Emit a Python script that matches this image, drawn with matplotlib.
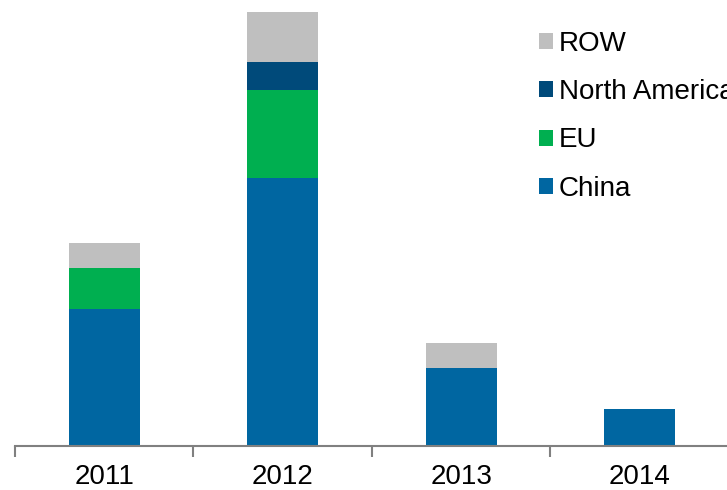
import numpy as np
import matplotlib
matplotlib.use("Agg")
import matplotlib.pyplot as plt

plt.rcParams["font.family"] = ["Liberation Sans", "DejaVu Sans"]

# data (arbitrary units)
years = ["2011", "2012", "2013", "2014"]
china = [13.7, 26.8, 7.8, 3.7]
eu = [4.1, 8.8, 0.0, 0.0]
north_america = [0.0, 2.8, 0.0, 0.0]
row = [2.5, 5.0, 2.5, 0.0]

series = [("China", china, "#0066A1"),
          ("EU", eu, "#00AF50"),
          ("North America", north_america, "#004A7A"),
          ("ROW", row, "#BFBFBF")]

fig = plt.figure(figsize=(7.27, 4.90), dpi=100)
ax = fig.add_axes([15 / 727, 44 / 490, 714 / 727, 446 / 490])

x = np.arange(len(years))
bottom = np.zeros(len(years))
handles = []
for name, vals, color in series:
    vals = np.array(vals)
    h = ax.bar(x, vals, width=0.4, bottom=bottom, color=color, label=name,
               edgecolor="none")
    handles.append(h)
    bottom += vals

ax.set_xlim(-0.5, 3.5)
ax.set_ylim(0, 44.6)

for s in ["left", "top", "right"]:
    ax.spines[s].set_visible(False)
ax.spines["bottom"].set_color("#808080")
ax.spines["bottom"].set_linewidth(1.5)
ax.set_yticks([])

# boundary ticks as major, labels on minor ticks at the centres
ax.set_xticks(np.arange(-0.5, 4.0, 1.0))
ax.set_xticklabels([])
ax.tick_params(axis="x", which="major", direction="out", length=8,
               width=1.5, color="#808080")
ax.set_xticks(x, minor=True)
ax.set_xticklabels(years, minor=True, fontsize=20)
ax.tick_params(axis="x", which="minor", length=0, pad=13)

# legend reads top-down ROW ... China; long label runs off the right edge as in the source
leg = ax.legend(handles[::-1], [s[0] for s in series][::-1],
                loc="upper left", bbox_to_anchor=(539 / 727, 1 - 31 / 490),
                bbox_transform=fig.transFigure, frameon=False, fontsize=20,
                handlelength=0.5, handleheight=0.5, handletextpad=0.22,
                labelspacing=0.8, borderpad=0, borderaxespad=0)

fig.savefig("out.png", dpi=100)
